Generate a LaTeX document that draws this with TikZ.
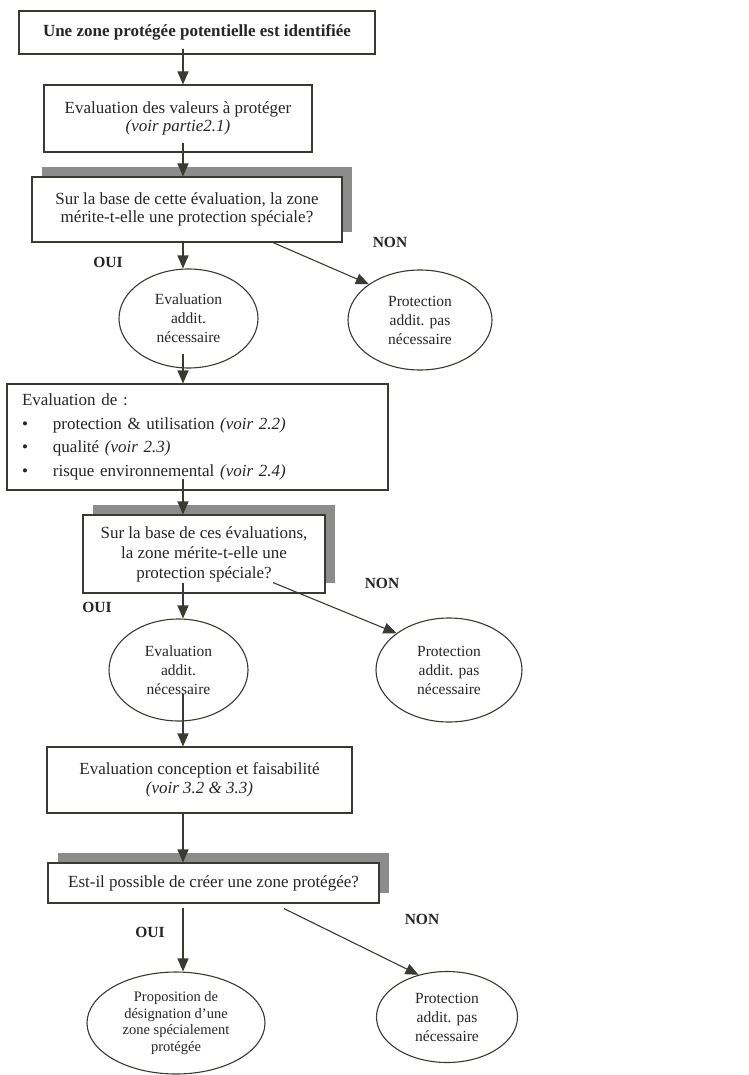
\documentclass[tikz,border=0pt]{standalone}
\usepackage{fontspec}
\setmainfont{Liberation Serif}
\usetikzlibrary{shapes.geometric, arrows.meta, shadows}
\definecolor{inkgray}{HTML}{3A3A34}
\definecolor{shadowgray}{HTML}{8C8C8C}
\tikzstyle{process} = [rectangle, draw=inkgray, line width=1.1pt, fill=white, text=black!85, align=center, inner sep=0pt, font=\fontsize{17}{18}\selectfont]
\tikzstyle{decision} = [process, drop shadow={shadow xshift=10pt, shadow yshift=10pt, fill=shadowgray, opacity=1}]
\tikzstyle{outcome} = [ellipse, draw=inkgray, line width=1.1pt, fill=white, text=black!85, align=center, inner sep=0pt, font=\fontsize{15.5}{19}\selectfont]
\tikzstyle{answer} = [text=black!85, font=\bfseries\fontsize{15.5}{16}\selectfont]
\tikzstyle{arrow} = [line width=1.1pt, draw=inkgray, -{Triangle[length=13pt,width=11pt]}]

\begin{document}
\begin{tikzpicture}[x=1pt, y=-1pt]
    \useasboundingbox (0,0) rectangle (748,1075);

        \node (start) [process, minimum width=356pt, minimum height=43pt, font=\bfseries\fontsize{17}{18}\selectfont] at (197,32.5) {Une zone protégée potentielle est identifiée};
        \node (valeurs) [process, below of=start, node distance=86pt, xshift=-19pt, minimum width=268pt, minimum height=67pt] {Evaluation des valeurs à protéger\\ \textit{(voir partie2.1)}};
        \node (q1) [decision, below of=valeurs, node distance=91pt, xshift=9pt, minimum width=310pt, minimum height=65pt] {Sur la base de cette évaluation, la zone\\ mérite-t-elle une protection spéciale?};
        \node (evalA) [outcome, below of=q1, node distance=109pt, xshift=1.5pt, minimum width=139pt, minimum height=99pt] {Evaluation\\ addit.\\ nécessaire};
        \node (protA) [outcome, right of=evalA, node distance=231.5pt, yshift=-1.5pt, minimum width=144pt, minimum height=100pt] {Protection\\ addit. pas\\ nécessaire};
        \node (criteres) [process, below of=evalA, node distance=118.5pt, xshift=9pt, minimum width=381pt, minimum height=106pt, text width=351pt, align=left, font=\fontsize{17}{23.5}\selectfont] {Evaluation de :\\
            \makebox[31pt][l]{\textbullet}protection \& utilisation \textit{(voir 2.2)}\\
            \makebox[31pt][l]{\textbullet}qualité \textit{(voir 2.3)}\\
            \makebox[31pt][l]{\textbullet}risque environnemental \textit{(voir 2.4)}};
        \node (q2) [decision, below of=criteres, node distance=117pt, xshift=6.5pt, minimum width=242pt, minimum height=78pt, font=\fontsize{17}{20}\selectfont] {Sur la base de ces évaluations,\\ la zone mérite-t-elle une\\ protection spéciale?};
        \node (evalB) [outcome, below of=q2, node distance=116pt, xshift=-25.5pt, minimum width=139pt, minimum height=102pt] {Evaluation\\ addit.\\ nécessaire};
        \node (protB) [outcome, right of=evalB, node distance=270.5pt, minimum width=146pt, minimum height=104pt] {Protection\\ addit. pas\\ nécessaire};
        \node (conception) [process, below of=evalB, node distance=110pt, xshift=21pt, minimum width=305pt, minimum height=66pt, font=\fontsize{17}{19}\selectfont] {Evaluation conception et faisabilité\\ \textit{(voir 3.2 \& 3.3)}};
        \node (q3) [decision, below of=conception, node distance=103pt, xshift=14pt, minimum width=331pt, minimum height=40pt] {Est-il possible de créer une zone protégée?};
        \node (designation) [outcome, below of=q3, node distance=140pt, xshift=-37.5pt, minimum width=178pt, minimum height=102pt, font=\fontsize{14.5}{16.5}\selectfont] {Proposition de\\ désignation d'une\\ zone spécialement\\ protégée};
        \node (protC) [outcome, right of=designation, node distance=271pt, yshift=6pt, minimum width=141pt, minimum height=91pt] {Protection\\ addit. pas\\ nécessaire};

        % OUI / NON
        \node (oui1) [answer] at (108,262) {OUI};
        \node (non1) [answer] at (390,242) {NON};
        \node (oui2) [answer] at (97,607) {OUI};
        \node (non2) [answer] at (382,583) {NON};
        \node (oui3) [answer] at (150,932) {OUI};
        \node (non3) [answer] at (422,919) {NON};

        \coordinate (axis) at (183,0);
        \draw [arrow] (axis |- start.south) ++(0,-6) -- (axis |- valeurs.north);
        \draw [arrow] (axis |- valeurs.south) ++(0,-10) -- (axis |- q1.north);
        \draw [arrow] (axis |- q1.south) -- (axis |- evalA.north);
        \draw [arrow] (q1.south) ++(86,0) -- (protA.145);
        \draw [arrow] (axis |- evalA.south) ++(0,-15) -- (axis |- criteres.north);
        \draw [arrow] (axis |- criteres.south) ++(0,-12) -- (axis |- q2.north);
        \draw [arrow] (axis |- q2.south) ++(0,-11) -- (axis |- evalB.north);
        \draw [arrow] (q2.south) ++(69,-11) -- (protB.145);
        \draw [arrow] (axis |- evalB.south) ++(0,-28) -- (axis |- conception.north);
        \draw [arrow] (axis |- conception.south) -- (axis |- q3.north);
        \draw [arrow] (axis |- q3.south) ++(0,4) -- (axis |- designation.north);
        \draw [arrow] (q3.south) ++(70.5,5) -- (protC.124);

    \end{tikzpicture}
\end{document}
